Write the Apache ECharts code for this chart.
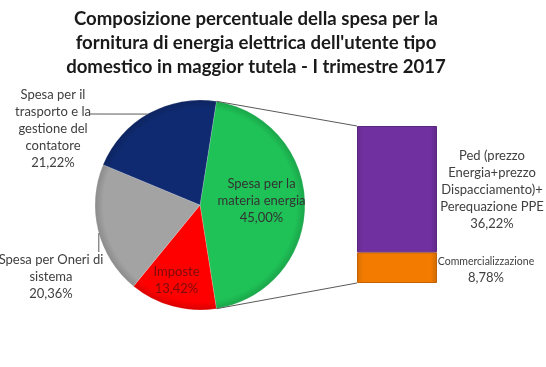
<!DOCTYPE html>
<html><head><meta charset="utf-8">
<script src="https://cdn.jsdelivr.net/npm/echarts@6/dist/echarts.min.js"></script>
<style>html,body{margin:0;padding:0;background:#fff}#c{width:546px;height:367px}</style>
</head><body><div id="c"></div>
<script>
const titleLines = ['Composizione percentuale della spesa per la', "fornitura di energia elettrica dell'utente tipo", 'domestico in maggior tutela - I trimestre 2017'];
const pieCategories = ['Spesa per la\nmateria energia', 'Imposte', 'Spesa per Oneri di\nsistema', 'Spesa per il\ntrasporto e la\ngestione del\ncontatore'];
const pieValues = [45.00, 13.42, 20.36, 21.22];
const pieColors = ['#1fc257', '#ff0000', '#a3a3a3', '#0f2a70'];
const barCategories = ['Commercializzazione', 'Ped (prezzo\nEnergia+prezzo\nDispacciamento)+\nPerequazione PPE'];
const barValues = [8.78, 36.22];
const barColors = ['#f27b00', '#7030a0'];

const fmt = v => v.toFixed(2).replace('.', ',') + '%';
const FONT = 'Lato';
const CX = 200, CY = 205, R = 105, START = 81;
const G = {left: 357, top: 126, width: 80, height: 157};

function shade(hex, f) {
  const n = parseInt(hex.slice(1), 16);
  let r = (n >> 16) & 255, g = (n >> 8) & 255, b = n & 255;
  r = Math.round(r * f); g = Math.round(g * f); b = Math.round(b * f);
  return 'rgb(' + r + ',' + g + ',' + b + ')';
}
function radial(c) {
  return {type: 'radial', x: CX, y: CY, r: R, global: true,
    colorStops: [{offset: 0, color: c}, {offset: 0.92, color: c}, {offset: 1, color: shade(c, 0.85)}]};
}
function linear(c) {
  return {type: 'linear', x: 0, y: 0, x2: 1, y2: 0,
    colorStops: [{offset: 0, color: shade(c, 0.9)}, {offset: 0.08, color: c}, {offset: 0.92, color: c}, {offset: 1, color: shade(c, 0.85)}]};
}

const pieLabelCfg = [
  {position: 'inside', color: '#333', offset: [6, -4]},
  {position: 'inside', color: '#7a0c0c', offset: [-9, 22]},
  {position: 'outside', color: '#404040'},
  {position: 'outside', color: '#404040'}
];
const outerPos = {2: [51, 277], 3: [53, 129]};

const pieData = pieValues.map((v, i) => ({
  name: pieCategories[i], value: v,
  itemStyle: {color: radial(pieColors[i])},
  label: Object.assign({show: true}, pieLabelCfg[i])
}));

const chart = echarts.init(document.getElementById('c'), null, {renderer: 'canvas'});
const option = {
  animation: false,
  title: {
    text: titleLines.join('\n'), left: 251, top: 2, textAlign: 'center',
    textStyle: {fontFamily: FONT, fontWeight: 'bold', fontSize: 18.6, lineHeight: 24, color: '#1a1a1a'}
  },
  grid: {left: G.left, top: G.top, width: G.width, height: G.height},
  xAxis: {type: 'category', data: [''], show: false},
  yAxis: {type: 'value', min: 0, max: 45, show: false},
  series: [
    {
      type: 'pie', center: [CX, CY], radius: R, startAngle: START, clockwise: true,
      data: pieData,
      label: {fontFamily: FONT, fontSize: 13, lineHeight: 17, align: 'center', overflow: 'none',
        formatter: p => p.name + '\n' + fmt(p.value)},
      labelLine: {show: false},
      labelLayout: p => outerPos[p.dataIndex] ? {x: outerPos[p.dataIndex][0], y: outerPos[p.dataIndex][1], align: 'center', verticalAlign: 'middle'} : {},
      itemStyle: {borderColor: 'rgba(255,255,255,0.35)', borderWidth: 0.5}
    },
    {
      type: 'bar', stack: 's', barWidth: '100%', data: [barValues[0]],
      itemStyle: {color: linear(barColors[0]), borderColor: shade(barColors[0], 0.8), borderWidth: 1},
      label: {show: true, position: 'right', distance: 49, align: 'center', fontFamily: FONT, offset: [0, 2],
        formatter: () => '{n|' + barCategories[0] + '}\n{v|' + fmt(barValues[0]) + '}',
        rich: {n: {fontSize: 10.5, fontFamily: FONT, color: '#404040', lineHeight: 16, align: 'center'},
               v: {fontSize: 13, fontFamily: FONT, color: '#404040', lineHeight: 17, align: 'center'}}}
    },
    {
      type: 'bar', stack: 's', barWidth: '100%', data: [barValues[1]],
      itemStyle: {color: linear(barColors[1]), borderColor: shade(barColors[1], 0.8), borderWidth: 1},
      label: {show: true, position: 'right', distance: 55, align: 'center', fontFamily: FONT,
        fontSize: 13, lineHeight: 17, color: '#404040', offset: [0, 1],
        formatter: () => barCategories[1] + '\n' + fmt(barValues[1])}
    }
  ]
};
chart.setOption(option);

// connector and leader lines derived from geometry
function edge(clockDeg) {
  const a = clockDeg * Math.PI / 180;
  return [CX + R * Math.sin(a), CY - R * Math.cos(a)];
}
const total = pieValues.reduce((a, b) => a + b, 0);
const gStart = 90 - START;
const gEnd = gStart + 360 * pieValues[0] / total;
const yTop = chart.convertToPixel({gridIndex: 0}, [0, barValues[0] + barValues[1]])[1];
const yBot = chart.convertToPixel({gridIndex: 0}, [0, 0])[1];
const p1 = edge(gStart), p2 = edge(gEnd);
const n1 = edge(330), g1 = edge(254.5);
const lineStyle = {stroke: '#595959', lineWidth: 1};
chart.setOption({
  graphic: [
    {type: 'line', shape: {x1: p1[0], y1: p1[1], x2: G.left, y2: yTop}, style: lineStyle, z: 10},
    {type: 'line', shape: {x1: p2[0], y1: p2[1], x2: G.left, y2: yBot}, style: lineStyle, z: 10},
    {type: 'line', shape: {x1: 90, y1: 114, x2: n1[0], y2: n1[1]}, style: lineStyle, z: 10},
    {type: 'line', shape: {x1: g1[0], y1: g1[1], x2: g1[0], y2: 252}, style: lineStyle, z: 10}
  ]
});
</script></body></html>
